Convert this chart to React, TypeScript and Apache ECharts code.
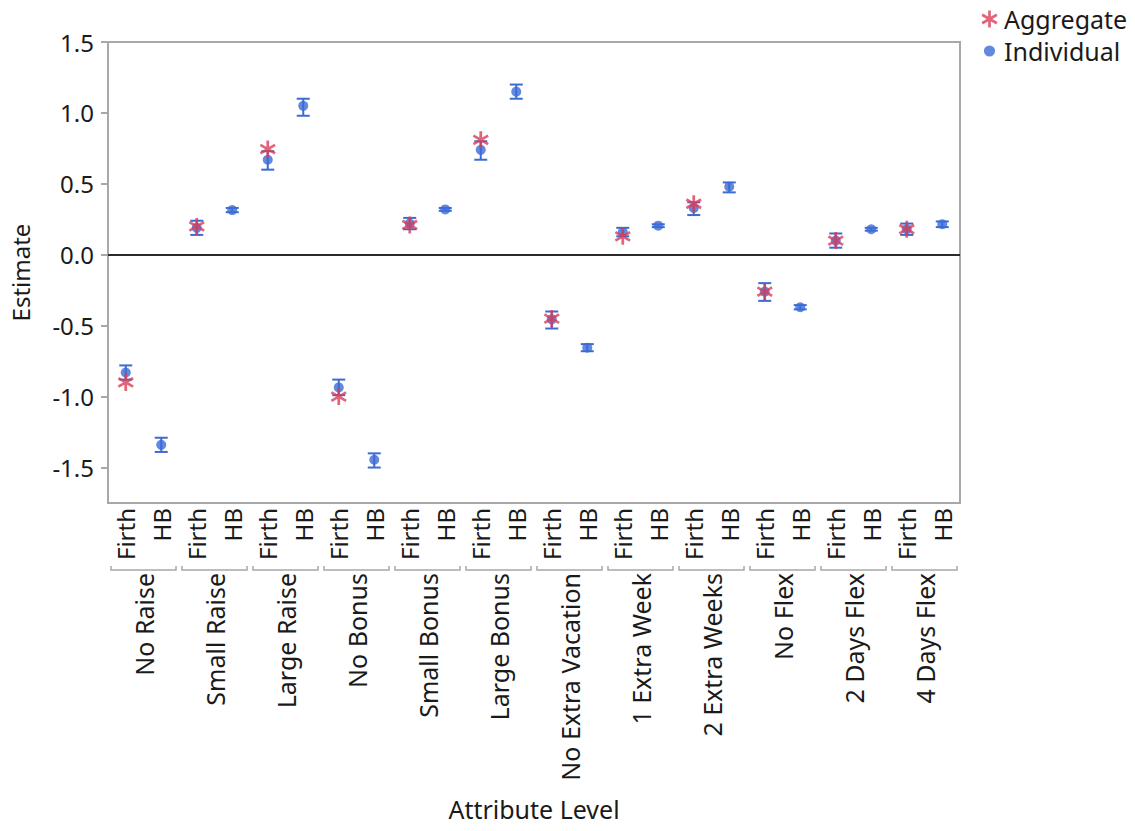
import React, { useEffect, useRef } from 'react';
import * as echarts from 'echarts';

const groups = [
  'No Raise', 'Small Raise', 'Large Raise', 'No Bonus', 'Small Bonus', 'Large Bonus',
  'No Extra Vacation', '1 Extra Week', '2 Extra Weeks', 'No Flex', '2 Days Flex', '4 Days Flex',
];
const methods = ['Firth', 'HB'];

// Individual estimates (Firth, HB per group)
const individual = [
  -0.83, -1.34,
  0.19, 0.315,
  0.67, 1.05,
  -0.935, -1.445,
  0.22, 0.32,
  0.74, 1.15,
  -0.455, -0.655,
  0.16, 0.205,
  0.33, 0.48,
  -0.26, -0.37,
  0.10, 0.18,
  0.18, 0.215,
];
const individualLow = [
  -0.88, -1.39,
  0.14, 0.30,
  0.60, 0.98,
  -0.99, -1.50,
  0.18, 0.31,
  0.67, 1.10,
  -0.52, -0.68,
  0.13, 0.195,
  0.28, 0.44,
  -0.325, -0.385,
  0.05, 0.17,
  0.14, 0.195,
];
const individualHigh = [
  -0.78, -1.29,
  0.24, 0.33,
  0.73, 1.10,
  -0.88, -1.40,
  0.26, 0.33,
  0.80, 1.20,
  -0.40, -0.63,
  0.19, 0.215,
  0.37, 0.51,
  -0.20, -0.355,
  0.15, 0.19,
  0.22, 0.235,
];
// Aggregate estimates (Firth only)
const aggregateFirth = [-0.90, 0.20, 0.745, -1.0, 0.21, 0.81, -0.45, 0.13, 0.36, -0.26, 0.10, 0.18];

const yTicks = [-1.5, -1.0, -0.5, 0.0, 0.5, 1.0, 1.5];
const Y_MIN = -1.75;
const Y_MAX = 1.5;

const RED = '#d93d57';
const BLUE = '#3b6bd6';
const GRAY = '#a8a8a8';
const TEXT = '#1a1a1a';
const FONT = '"Noto Sans", "Open Sans", sans-serif';

function asteriskPath(L: number, w: number) {
  const angles = [90, 30, -30];
  const parts = angles.map((a) => {
    const r = (a * Math.PI) / 180;
    const dx = Math.cos(r), dy = Math.sin(r);
    const nx = -Math.sin(r), ny = Math.cos(r);
    const pts = [
      [L * dx + w * nx, L * dy + w * ny],
      [-L * dx + w * nx, -L * dy + w * ny],
      [-L * dx - w * nx, -L * dy - w * ny],
      [L * dx - w * nx, L * dy - w * ny],
    ];
    return 'M' + pts.map((p) => p[0].toFixed(3) + ' ' + p[1].toFixed(3)).join(' L') + ' Z';
  });
  return 'path://' + parts.join(' ');
}
const ASTERISK = asteriskPath(10, 1.6);
const LEGEND_DOT = 'path://M-7 -7 L-7 -7 M7 7 L7 7 M-4.6 0 A4.6 4.6 0 1 1 4.6 0 A4.6 4.6 0 1 1 -4.6 0 Z';

const categories = groups.flatMap((g) => methods.map((m) => g + '|' + m));

export default function App() {
  const ref = useRef<HTMLDivElement>(null);
  useEffect(() => {
    if (!ref.current) return;
    const chart = echarts.init(ref.current, undefined, { renderer: 'svg' });
    chart.setOption({
      animation: false,
      textStyle: { fontFamily: FONT },
      legend: {
        orient: 'vertical',
        left: 976,
        top: 0,
        itemWidth: 17,
        itemHeight: 17,
        itemGap: 4,
        textStyle: { fontSize: 25, color: TEXT, fontFamily: FONT, lineHeight: 28, padding: [0, 0, 0, 1] },
        data: [
          { name: 'Aggregate', icon: ASTERISK, itemStyle: { color: RED } },
          { name: 'Individual', icon: LEGEND_DOT, itemStyle: { color: BLUE } },
        ],
      },
      grid: {
        left: 108,
        right: 175,
        top: 42,
        bottom: 328,
        show: true,
        borderColor: GRAY,
        borderWidth: 2,
        backgroundColor: 'transparent',
      },
      xAxis: [
        {
          type: 'category',
          data: categories,
          position: 'bottom',
          boundaryGap: true,
          axisLine: { show: true, lineStyle: { color: GRAY, width: 2 } },
          axisTick: { show: false },
          splitLine: { show: false },
          axisLabel: {
            rotate: 90,
            margin: 5,
            fontSize: 24,
            color: TEXT,
            fontFamily: FONT,
            interval: 0,
            formatter: (v: string) => v.split('|')[1],
          },
          name: 'Attribute Level',
          nameLocation: 'middle',
          nameGap: 293,
          nameTextStyle: { fontSize: 25, color: TEXT, fontFamily: FONT },
        },
        {
          type: 'category',
          data: groups,
          position: 'bottom',
          offset: 64,
          boundaryGap: true,
          axisLine: { show: false },
          axisTick: { show: false },
          splitLine: { show: false },
          axisLabel: {
            rotate: 90,
            margin: 6,
            fontSize: 25,
            color: TEXT,
            fontFamily: FONT,
            interval: 0,
          },
        },
      ],
      yAxis: {
        type: 'value',
        min: Y_MIN,
        max: Y_MAX,
        axisLine: { show: true, lineStyle: { color: GRAY, width: 2 } },
        axisTick: { show: true, length: 7, customValues: yTicks, lineStyle: { color: GRAY, width: 2 } },
        splitLine: { show: false },
        axisLabel: {
          customValues: yTicks,
          fontSize: 24,
          color: TEXT,
          fontFamily: FONT,
          margin: 14,
          formatter: (v: number) => v.toFixed(1),
        },
        name: 'Estimate',
        nameLocation: 'middle',
        nameGap: 76,
        nameTextStyle: { fontSize: 24, color: TEXT, fontFamily: FONT },
      },
      series: [
        {
          name: 'Individual CI',
          type: 'custom',
          xAxisIndex: 0,
          yAxisIndex: 0,
          silent: true,
          z: 2,
          encode: { x: 0, y: [1, 2] },
          data: individual.map((_, i) => [i, individualLow[i], individualHigh[i]]),
          renderItem: (params: any, api: any) => {
            const x = api.value(0);
            const lo = api.coord([x, api.value(1)]);
            const hi = api.coord([x, api.value(2)]);
            const hw = 6.5;
            const style = { stroke: BLUE, lineWidth: 2 };
            return {
              type: 'group',
              children: [
                { type: 'line', shape: { x1: lo[0], y1: lo[1], x2: hi[0], y2: hi[1] }, style },
                { type: 'line', shape: { x1: lo[0] - hw, y1: lo[1], x2: lo[0] + hw, y2: lo[1] }, style },
                { type: 'line', shape: { x1: hi[0] - hw, y1: hi[1], x2: hi[0] + hw, y2: hi[1] }, style },
              ],
            };
          },
          markLine: {
            silent: true,
            symbol: ['none', 'none'],
            label: { show: false },
            lineStyle: { color: '#000', width: 1.5, type: 'solid' },
            data: [{ yAxis: 0 }],
          },
        },
        {
          name: 'Individual',
          type: 'scatter',
          xAxisIndex: 0,
          yAxisIndex: 0,
          symbol: 'circle',
          symbolSize: 10,
          itemStyle: { color: BLUE },
          emphasis: { disabled: true },
          z: 3,
          data: individual.map((v, i) => [i, v]),
        },
        {
          name: 'Aggregate',
          type: 'scatter',
          xAxisIndex: 0,
          yAxisIndex: 0,
          symbol: ASTERISK,
          symbolSize: 17,
          symbolKeepAspect: true,
          itemStyle: { color: RED },
          emphasis: { disabled: true },
          z: 4,
          data: aggregateFirth.map((v, k) => [k * methods.length, v]),
        },
        {
          name: 'brackets',
          type: 'custom',
          xAxisIndex: 1,
          yAxisIndex: 0,
          silent: true,
          clip: false,
          encode: { x: 0, y: 1 },
          data: groups.map((_, i) => [i, Y_MIN]),
          renderItem: (params: any, api: any) => {
            const c = api.coord([api.value(0), api.value(1)]);
            const w = api.size([1, 0])[0];
            const y = c[1] + 67;
            const x1 = c[0] - w / 2 + 3;
            const x2 = c[0] + w / 2 - 3;
            return {
              type: 'polyline',
              shape: { points: [[x1, y - 4], [x1, y], [x2, y], [x2, y - 4]] },
              style: { stroke: GRAY, fill: null, lineWidth: 1.5 },
            };
          },
        },
      ],
    });
    return () => chart.dispose();
  }, []);
  return (
    <div
      ref={ref}
      style={{ position: 'absolute', left: 0, top: 0, width: 1135, height: 831, background: '#fff' }}
    />
  );
}
